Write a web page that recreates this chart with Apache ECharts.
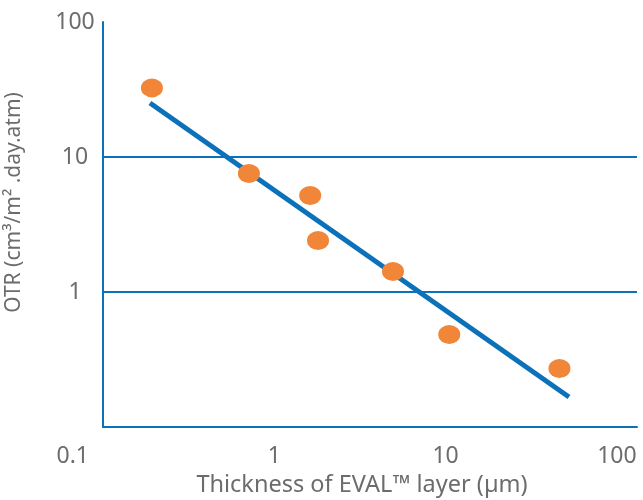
<!DOCTYPE html>
<html>
<head>
<meta charset="utf-8">
<script src="https://cdn.jsdelivr.net/npm/echarts@6/dist/echarts.min.js"></script>
<style>
  html, body { margin: 0; padding: 0; background: #fff; }
  #chart { width: 643px; height: 500px; }
</style>
</head>
<body>
<div id="chart"></div>
<script>
// Measured samples: EVAL layer thickness (µm) vs oxygen transmission rate
const thickness = [0.193, 0.711, 1.62, 1.80, 4.93, 10.5, 46.2];
const otr = [32.5, 7.55, 5.19, 2.41, 1.42, 0.484, 0.271];

// End points of the power-law fit drawn through the samples
const fitThickness = [0.188, 52.5];
const fitOtr = [25.1, 0.167];

const xAxisTitle = 'Thickness of EVAL™ layer (µm)';
const yAxisTitle = 'OTR (cm³/m² .day.atm)';
const decadeLabels = { 0.1: '0.1', 1: '1', 10: '10', 100: '100' };

const BLUE = '#0b72ba';
const ORANGE = '#f28638';
const GREY = '#6b6c6e';
const FONT = 'Noto Sans';

function decade(v) {
  const key = Number(v.toPrecision(3));
  return decadeLabels[key] !== undefined ? decadeLabels[key] : '';
}

const chart = echarts.init(document.getElementById('chart'), null, { renderer: 'canvas' });

chart.setOption({
  animation: false,
  backgroundColor: '#ffffff',
  grid: { left: 103, top: 22, right: 6, bottom: 73, containLabel: false, outerBoundsMode: 'none' },
  xAxis: {
    type: 'log',
    logBase: 10,
    min: 0.1,
    max: 131,
    axisLine: { show: true, lineStyle: { color: BLUE, width: 2 } },
    axisTick: { show: false },
    splitLine: { show: false },
    axisLabel: {
      color: GREY,
      fontFamily: FONT,
      fontSize: 23,
      margin: 18,
      showMaxLabel: false,
      alignMinLabel: 'right',
      formatter: function (v) {
        const t = decade(v);
        return t === '0.1' ? '{m|0.1}' : t;
      },
      rich: {
        m: { color: GREY, fontFamily: FONT, fontSize: 23, padding: [0, 14, 0, 0] }
      }
    },
    name: xAxisTitle,
    nameLocation: 'middle',
    nameGap: 46,
    nameTextStyle: { color: GREY, fontFamily: FONT, fontSize: 23.5, padding: [0, 16, 0, 0] }
  },
  yAxis: {
    type: 'log',
    logBase: 10,
    min: 0.1,
    max: 100,
    axisLine: { show: true, lineStyle: { color: BLUE, width: 2 } },
    axisTick: { show: false },
    splitLine: {
      show: true,
      showMinLine: false,
      showMaxLine: false,
      lineStyle: { color: BLUE, width: 2 }
    },
    axisLabel: {
      color: GREY,
      fontFamily: FONT,
      fontSize: 23,
      align: 'center',
      margin: 28,
      showMinLabel: false,
      formatter: decade
    },
    name: yAxisTitle,
    nameLocation: 'middle',
    nameRotate: 90,
    nameGap: 78,
    nameTextStyle: { color: GREY, fontFamily: FONT, fontSize: 21, padding: [0, 0, 0, 44] }
  },
  series: [
    {
      type: 'line',
      data: fitThickness.map((x, i) => [x, fitOtr[i]]),
      symbol: 'none',
      lineStyle: { color: BLUE, width: 5, cap: 'butt' },
      z: 2
    },
    {
      type: 'scatter',
      data: thickness.map((x, i) => [x, otr[i]]),
      symbol: 'circle',
      symbolSize: [22, 19],
      itemStyle: { color: ORANGE, opacity: 1 },
      z: 3
    }
  ]
});
</script>
</body>
</html>
